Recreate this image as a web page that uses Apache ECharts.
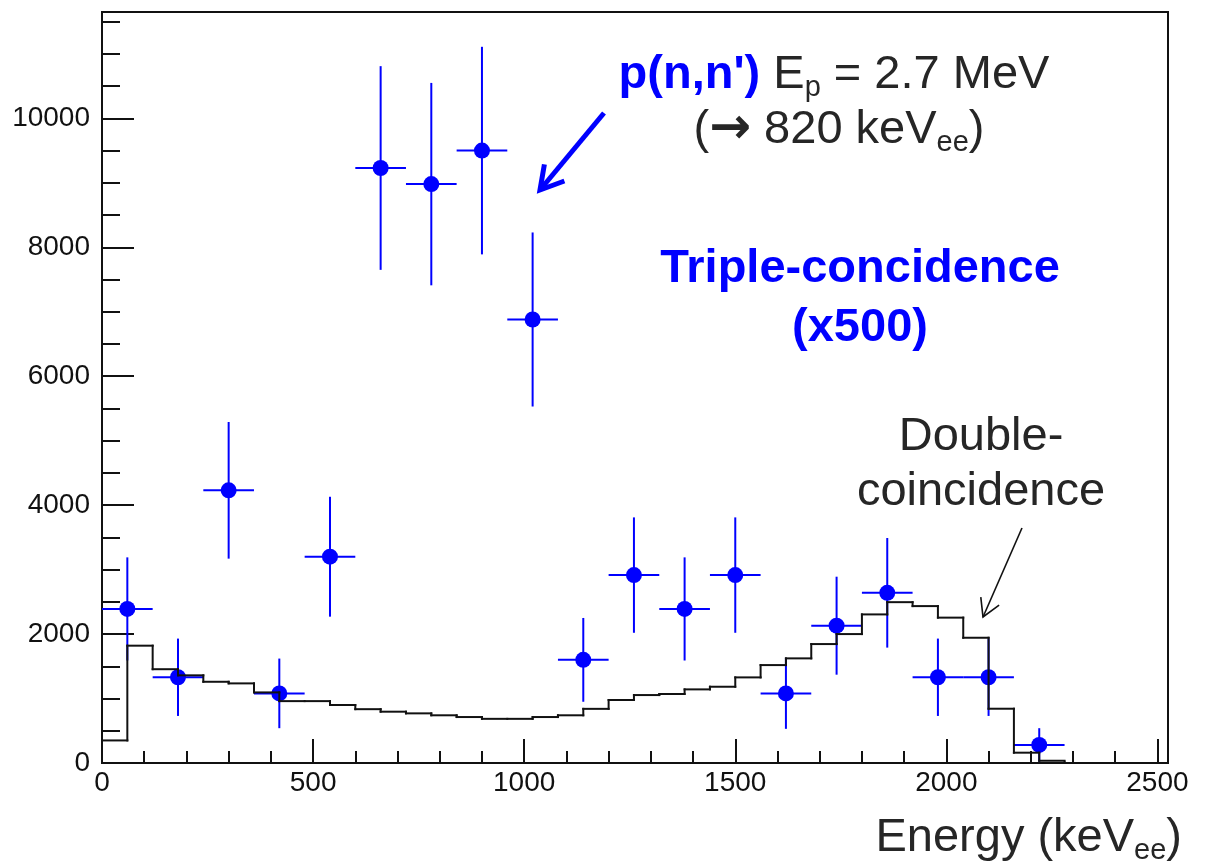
<!DOCTYPE html>
<html>
<head>
<meta charset="utf-8">
<script src="https://cdn.jsdelivr.net/npm/echarts/dist/echarts.min.js"></script>
<style>
  html, body { margin: 0; padding: 0; background: #ffffff; }
  #chart { width: 1207px; height: 867px; }
</style>
</head>
<body>
<div id="chart"></div>
<script>
// ---- Triple-coincidence (x500) data points ----
const tripleEnergy = [60, 180, 300, 420, 540, 660, 780, 900, 1020, 1140, 1260, 1380, 1500, 1620, 1740, 1860, 1980, 2100, 2220];
const tripleCounts = [2390, 1330, 4230, 1080, 3200, 9230, 8980, 9500, 6880, 1600, 2915, 2390, 2915, 1080, 2130, 2640, 1330, 1330, 280];
const tripleErr    = [800, 600, 1060, 540, 930, 1580, 1570, 1610, 1350, 650, 895, 800, 895, 550, 760, 850, 600, 600, 260];
const tripleBinHalfWidth = 60;

// ---- Double-coincidence histogram (60 keV bins) ----
const doubleBinEdges = [0, 60, 120, 180, 240, 300, 360, 420, 480, 540, 600, 660, 720, 780, 840, 900, 960, 1020, 1080, 1140,
  1200, 1260, 1320, 1380, 1440, 1500, 1560, 1620, 1680, 1740, 1800, 1860, 1920, 1980, 2040, 2100, 2160, 2220, 2280];
const doubleCounts = [350, 1820, 1455, 1360, 1260, 1235, 1095, 960, 960, 900, 835, 796, 770, 740, 713, 685, 685, 713, 740, 840,
  977, 1054, 1070, 1142, 1183, 1328, 1519, 1623, 1845, 2000, 2305, 2495, 2434, 2255, 1943, 842, 160, 35];

// ---- Axes ----
const xMin = 0, xMax = 2525, xInterval = 500;
const yMin = 0, yMax = 11650, yInterval = 2000;

const FONT = "'Liberation Sans', Arial, Helvetica, sans-serif";
const BLUE = '#0000ff';
const INK = '#262626';
const FS = 47;

// one item per bin: [lowEdge, highEdge, count, previousCount]
const histBins = doubleCounts.map((c, i) => [doubleBinEdges[i], doubleBinEdges[i + 1], c, i === 0 ? 0 : doubleCounts[i - 1],
  i === doubleCounts.length - 1 ? 0 : null]);

const triplePoints = tripleEnergy.map((e, i) => [e, tripleCounts[i], tripleErr[i], tripleBinHalfWidth]);

const chart = echarts.init(document.getElementById('chart'), null, { renderer: 'canvas' });

function arrow(tail, tip, armLen, color, width) {
  const dx = tail[0] - tip[0], dy = tail[1] - tip[1];
  const L = Math.hypot(dx, dy); const ux = dx / L, uy = dy / L;
  const a = Math.PI / 6;
  const r1 = [tip[0] + armLen * (Math.cos(a) * ux - Math.sin(a) * uy), tip[1] + armLen * (Math.sin(a) * ux + Math.cos(a) * uy)];
  const r2 = [tip[0] + armLen * (Math.cos(-a) * ux - Math.sin(-a) * uy), tip[1] + armLen * (Math.sin(-a) * ux + Math.cos(-a) * uy)];
  return [
    { type: 'polyline', shape: { points: [tail, tip] }, style: { stroke: color, lineWidth: width, fill: null }, z: 100 },
    { type: 'polyline', shape: { points: [r1, tip, r2] }, style: { stroke: color, lineWidth: width, fill: null, lineJoin: 'miter' }, z: 100 }
  ];
}

const plainNumber = v => String(Math.round(v));

const option = {
  backgroundColor: '#ffffff',
  animation: false,
  grid: { left: 102, right: 39, top: 12, bottom: 104, show: true, borderColor: '#111', borderWidth: 2, backgroundColor: 'transparent' },
  xAxis: {
    type: 'value', min: xMin, max: xMax, interval: xInterval,
    axisLine: { show: true, onZero: false, lineStyle: { color: '#111', width: 2 } },
    axisTick: { show: true, inside: true, length: 24, lineStyle: { color: '#111', width: 2 } },
    minorTick: { show: true, splitNumber: 5, length: 12, lineStyle: { color: '#111', width: 2 } },
    splitLine: { show: false },
    axisLabel: { show: true, showMaxLabel: false, margin: 6, fontSize: 28, color: '#111', fontFamily: FONT, formatter: plainNumber },
  },
  yAxis: {
    type: 'value', min: yMin, max: yMax, interval: yInterval,
    axisLine: { show: true, lineStyle: { color: '#111', width: 2 } },
    axisTick: { show: true, inside: true, length: 32, lineStyle: { color: '#111', width: 2 } },
    minorTick: { show: true, splitNumber: 4, length: 18, lineStyle: { color: '#111', width: 2 } },
    splitLine: { show: false },
    axisLabel: { show: true, showMaxLabel: false, margin: 12, fontSize: 28, color: '#111', fontFamily: FONT, formatter: plainNumber },
  },
  series: [
    {
      name: 'Triple-coincidence', type: 'custom', z: 2,
      data: triplePoints,
      encode: { x: 0, y: 1 },
      renderItem: function (params, api) {
        const x = api.value(0), y = api.value(1), e = api.value(2), hw = api.value(3);
        const c = api.coord([x, y]);
        const l = api.coord([x - hw, y]);
        const r = api.coord([x + hw, y]);
        const t = api.coord([x, y + e]);
        const b = api.coord([x, Math.max(0, y - e)]);
        return {
          type: 'group',
          children: [
            { type: 'line', shape: { x1: l[0], y1: l[1], x2: r[0], y2: r[1] }, style: { stroke: BLUE, lineWidth: 2 } },
            { type: 'line', shape: { x1: t[0], y1: t[1], x2: b[0], y2: b[1] }, style: { stroke: BLUE, lineWidth: 2 } },
            { type: 'circle', shape: { cx: c[0], cy: c[1], r: 8 }, style: { fill: BLUE } }
          ]
        };
      }
    },
    {
      name: 'Double-coincidence', type: 'custom', z: 3,
      data: histBins,
      encode: { x: [0, 1], y: 2 },
      renderItem: function (params, api) {
        const x0 = api.value(0), x1 = api.value(1), v = api.value(2), prev = api.value(3), last = api.value(4);
        const pl = api.coord([x0, v]);
        const pr = api.coord([x1, v]);
        const pp = api.coord([x0, prev]);
        const children = [
          { type: 'line', shape: { x1: pl[0], y1: pl[1], x2: pr[0], y2: pr[1] }, style: { stroke: '#111', lineWidth: 2, lineCap: 'square' } },
          { type: 'line', shape: { x1: pp[0], y1: pp[1], x2: pl[0], y2: pl[1] }, style: { stroke: '#111', lineWidth: 2, lineCap: 'square' } }
        ];
        if (last === 0) {
          const pz = api.coord([x1, 0]);
          children.push({ type: 'line', shape: { x1: pr[0], y1: pr[1], x2: pz[0], y2: pz[1] }, style: { stroke: '#111', lineWidth: 2 } });
        }
        return { type: 'group', children: children };
      }
    }
  ],
  graphic: [
    {
      type: 'text', z: 100,
      style: {
        x: 834, y: 75, align: 'center', verticalAlign: 'middle', textAlign: 'center', textVerticalAlign: 'middle',
        text: "{b|p(n,n')}{n| E}{s|p}{n| = 2.7 MeV}",
        rich: {
          b: { fontFamily: FONT, fontSize: FS, fontWeight: 'bold', fill: BLUE, lineHeight: 54 },
          n: { fontFamily: FONT, fontSize: FS, fill: INK, lineHeight: 54 },
          s: { fontFamily: FONT, fontSize: 29, fill: INK, lineHeight: 30, verticalAlign: 'bottom' }
        }
      }
    },
    {
      type: 'text', z: 100,
      style: {
        x: 839, y: 130, align: 'center', verticalAlign: 'middle', textAlign: 'center', textVerticalAlign: 'middle',
        text: "{n|(}{a|\u2192}{n| 820 keV}{s|ee}{n|)}",
        rich: {
          n: { fontFamily: FONT, fontSize: FS, fill: INK, lineHeight: 54 },
          a: { fontFamily: "'DejaVu Sans', sans-serif", fontSize: 50, fontWeight: 'bold', fill: INK, lineHeight: 54 },
          s: { fontFamily: FONT, fontSize: 29, fill: INK, lineHeight: 30, verticalAlign: 'bottom' }
        }
      }
    },
    {
      type: 'text', z: 100,
      style: {
        x: 860, y: 269, align: 'center', verticalAlign: 'middle', textAlign: 'center', textVerticalAlign: 'middle',
        text: 'Triple-concidence', fontFamily: FONT, fontSize: FS, fontWeight: 'bold', fill: BLUE
      }
    },
    {
      type: 'text', z: 100,
      style: {
        x: 860, y: 328, align: 'center', verticalAlign: 'middle', textAlign: 'center', textVerticalAlign: 'middle',
        text: '(x500)', fontFamily: FONT, fontSize: FS, fontWeight: 'bold', fill: BLUE
      }
    },
    {
      type: 'text', z: 100,
      style: {
        x: 981, y: 437, align: 'center', verticalAlign: 'middle', textAlign: 'center', textVerticalAlign: 'middle',
        text: 'Double-', fontFamily: FONT, fontSize: FS, fill: INK
      }
    },
    {
      type: 'text', z: 100,
      style: {
        x: 981, y: 492, align: 'center', verticalAlign: 'middle', textAlign: 'center', textVerticalAlign: 'middle',
        text: 'coincidence', fontFamily: FONT, fontSize: FS, fill: INK
      }
    },
    {
      type: 'text', z: 100,
      style: {
        x: 1182, y: 838, align: 'right', verticalAlign: 'middle', textAlign: 'right', textVerticalAlign: 'middle',
        text: '{n|Energy (keV}{s|ee}{n|)}',
        rich: {
          n: { fontFamily: FONT, fontSize: FS, fill: INK, lineHeight: 54 },
          s: { fontFamily: FONT, fontSize: 29, fill: INK, lineHeight: 30, verticalAlign: 'bottom' }
        }
      }
    },
    ...arrow([604, 113], [540, 190], 26, BLUE, 5),
    ...arrow([1022, 528], [983, 617], 20, '#111', 1.6)
  ]
};

chart.setOption(option);
</script>
</body>
</html>
